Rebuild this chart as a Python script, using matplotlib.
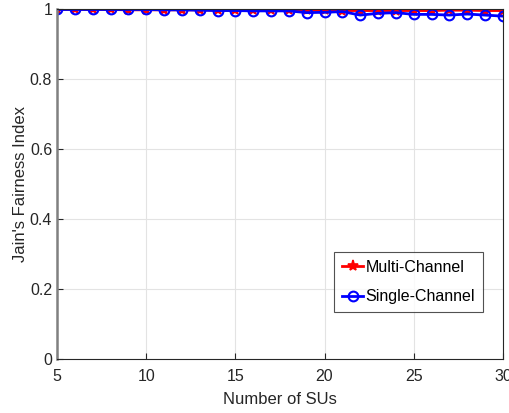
import numpy as np
import matplotlib
matplotlib.use("Agg")
import matplotlib.pyplot as plt

plt.rcParams["font.family"] = ["Liberation Sans", "DejaVu Sans"]

num_sus = list(range(5, 31))

# Jain's fairness index per scheme
multi_channel = [1.000, 1.000, 1.000, 1.000, 0.999, 0.999, 0.999, 0.999, 0.999,
                 0.998, 0.998, 0.998, 0.998, 0.998, 0.998, 0.998, 0.997,
                 0.997, 0.997, 0.997, 0.997, 0.997, 0.998, 0.998, 0.997, 0.997]
single_channel = [1.000, 1.000, 1.000, 1.000, 1.000, 1.000, 0.999, 0.999, 0.998,
                  0.997, 0.997, 0.996, 0.996, 0.996, 0.991, 0.992, 0.994,
                  0.984, 0.989, 0.991, 0.986, 0.986, 0.984, 0.987, 0.984, 0.981]

x_ticks = [5, 10, 15, 20, 25, 30]
y_ticks = [0, 0.2, 0.4, 0.6, 0.8, 1]

TEXT = "#262626"

fig = plt.figure(figsize=(5.09, 4.13), dpi=100)
ax = fig.add_axes([0.112, 0.131, 0.876, 0.846])

ax.plot(num_sus, multi_channel, color="red", lw=2, marker="*", ms=8,
        mew=1.2, label="Multi-Channel")
ax.plot(num_sus, single_channel, color="blue", lw=2, marker="o", ms=7,
        mfc="none", mew=1.5, label="Single-Channel")

ax.set_xlim(5, 30)
ax.set_ylim(0, 1)
ax.set_xticks(x_ticks)
ax.set_yticks(y_ticks)
ax.set_yticklabels(["0", "0.2", "0.4", "0.6", "0.8", "1"])
ax.grid(True, color="#e3e3e3", lw=0.8)
ax.set_axisbelow(True)
ax.tick_params(direction="in", length=4, labelsize=11.5, colors=TEXT,
               top=False, right=False)
ax.tick_params(axis="x", pad=7)
for side in ["top", "right", "bottom"]:
    ax.spines[side].set_color(TEXT)
ax.spines["left"].set_color("#808080")
ax.spines["left"].set_linewidth(1.8)

ax.set_xlabel("Number of SUs", fontsize=12, color=TEXT, labelpad=6)
ax.set_ylabel("Jain's Fairness Index", fontsize=12, color=TEXT, labelpad=1)

leg = ax.legend(loc="lower right", bbox_to_anchor=(0.955, 0.134), fontsize=11.5,
                frameon=True, fancybox=False, handlelength=1.3, handletextpad=0.15,
                borderpad=0.5, labelspacing=0.9, borderaxespad=0)
leg.get_frame().set_edgecolor(TEXT)
leg.get_frame().set_linewidth(0.8)

fig.savefig("out.png", dpi=100)
